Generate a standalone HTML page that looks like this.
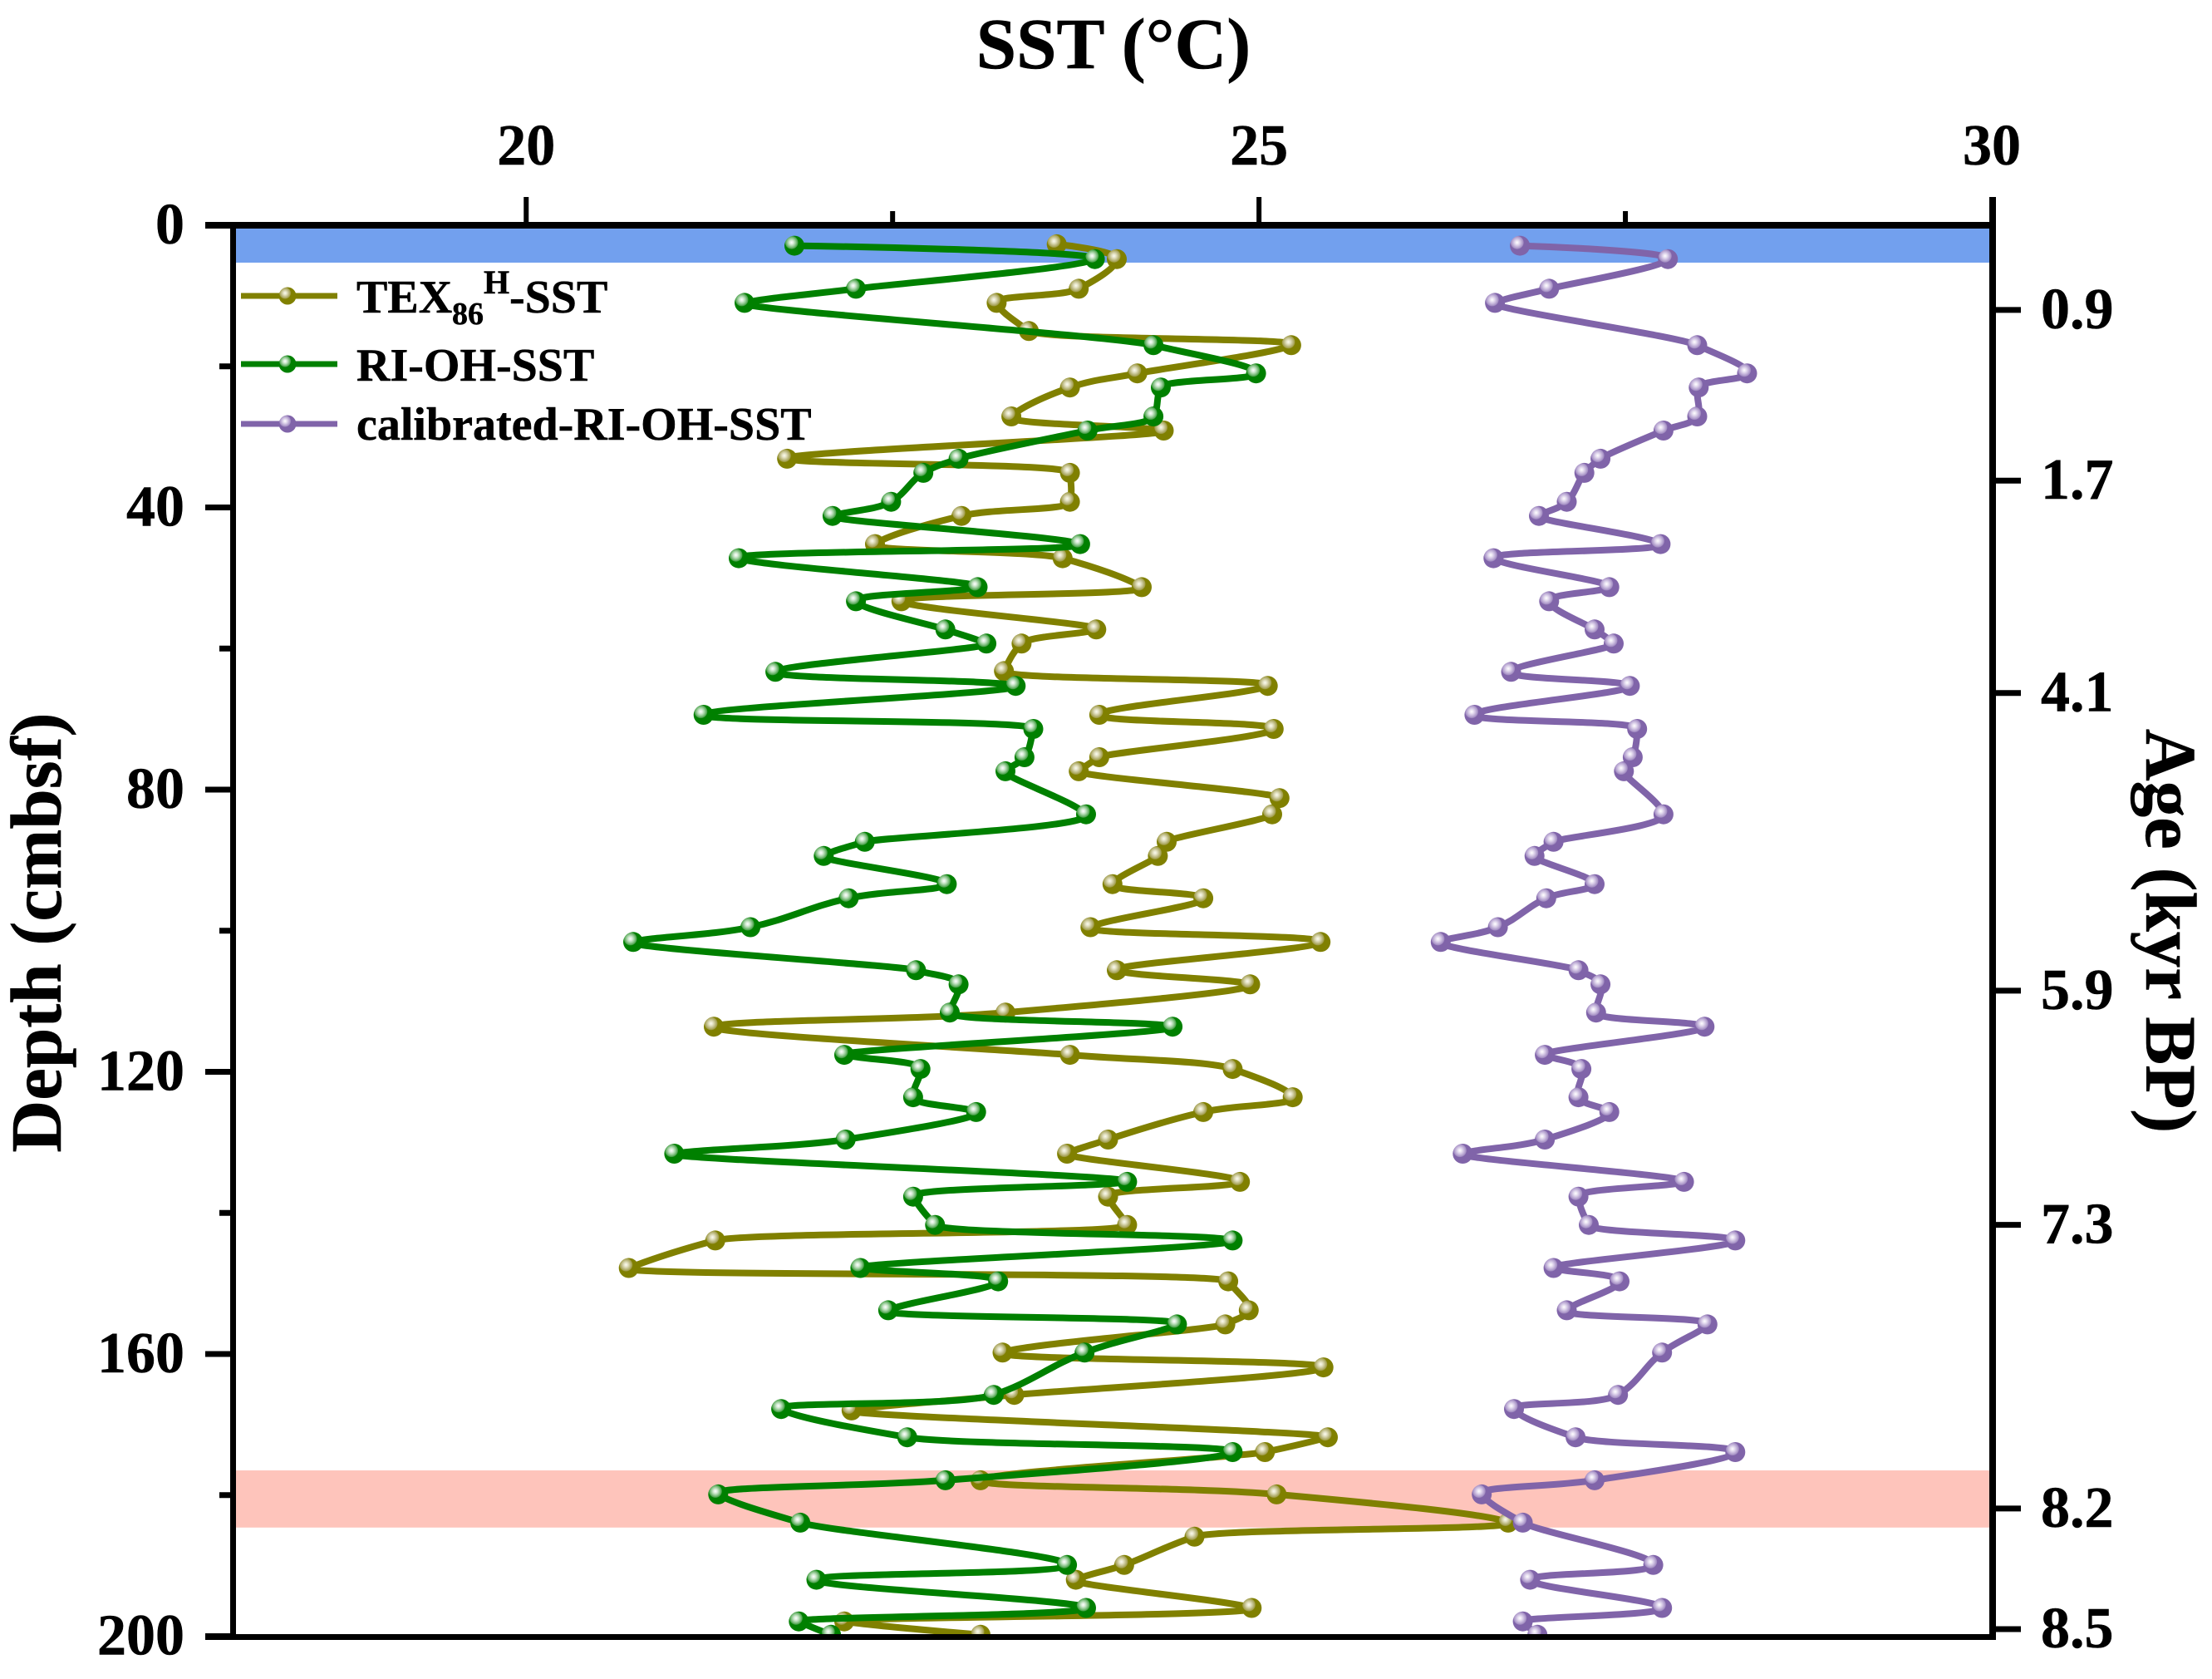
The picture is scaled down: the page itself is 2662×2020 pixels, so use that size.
<!DOCTYPE html>
<html lang="en">
<head>
<meta charset="utf-8">
<title>SST vs Depth</title>
<style>
html,body{margin:0;padding:0;background:#fff;}
svg{display:block;}
text{font-family:"Liberation Serif",serif;font-weight:bold;fill:#000;stroke:#000;stroke-width:0.5;}
</style>
</head>
<body>
<svg id="chart" xmlns="http://www.w3.org/2000/svg" width="2662" height="2020" viewBox="0 0 2662 2020">
<defs>
<radialGradient id="ballOlive" cx="0.36" cy="0.34" r="0.34">
<stop offset="0" stop-color="#fbfbf0"/><stop offset="0.3" stop-color="#e4e2c4"/><stop offset="0.62" stop-color="#c0bd88"/><stop offset="0.92" stop-color="#a09c48"/><stop offset="1" stop-color="#808000"/>
</radialGradient>
<radialGradient id="ballGreen" cx="0.36" cy="0.34" r="0.34">
<stop offset="0" stop-color="#ffffff"/><stop offset="0.3" stop-color="#d4ead4"/><stop offset="0.62" stop-color="#90c890"/><stop offset="0.92" stop-color="#48a048"/><stop offset="1" stop-color="#008000"/>
</radialGradient>
<radialGradient id="ballPurple" cx="0.36" cy="0.34" r="0.34">
<stop offset="0" stop-color="#ffffff"/><stop offset="0.3" stop-color="#e6def0"/><stop offset="0.62" stop-color="#c4b4da"/><stop offset="0.92" stop-color="#a28cc2"/><stop offset="1" stop-color="#8064A9"/>
</radialGradient>
<clipPath id="plotClipFull"><rect x="284" y="275" width="2110" height="1691"/></clipPath>
</defs>
<rect x="0" y="0" width="2662" height="2020" fill="#fff"/>
<g id="bands"></g>
<g id="series" clip-path="url(#plotClipFull)"></g>
<g id="axes"></g>
<text x="1340" y="82" font-size="87" text-anchor="middle">SST (°C)</text>
<text transform="translate(73,1122) rotate(-90)" font-size="87" text-anchor="middle">Depth (cmbsf)</text>
<text transform="translate(2583,1120) rotate(90)" font-size="87" text-anchor="middle">Age (kyr BP)</text>
<g>
<g>
<line x1="290" y1="356" x2="406" y2="356" stroke="#808000" stroke-width="7"/>
<circle cx="346" cy="356" r="10.5" fill="url(#ballOlive)"/>
<text x="429" y="376" font-size="56">TEX<tspan x="544" y="390" font-size="38">86</tspan><tspan x="582" y="353" font-size="40">H</tspan><tspan x="613" y="376" font-size="56">-SST</tspan></text>
</g>
<g>
<line x1="290" y1="438" x2="406" y2="438" stroke="#008000" stroke-width="7"/>
<circle cx="346" cy="438" r="10.5" fill="url(#ballGreen)"/>
<text x="429" y="458" font-size="56">RI-OH-SST</text>
</g>
<g>
<line x1="290" y1="510" x2="406" y2="510" stroke="#8064A9" stroke-width="7"/>
<circle cx="346" cy="510" r="10.5" fill="url(#ballPurple)"/>
<text x="429" y="529" font-size="56">calibrated-RI-OH-SST</text>
</g>
</g>
</svg>
<script>
var riDepths = [2.9,4.8,9,11,17,21,23,27.1,29.1,33.1,35.1,39.2,41.2,45.2,47.2,51.3,53.3,57.3,59.3,63.3,65.3,69.4,71.4,75.4,77.4,83.5,87.4,89.4,93.4,95.4,99.5,101.6,105.6,107.6,111.6,113.6,117.6,119.6,123.6,125.7,129.6,131.6,135.6,137.7,141.7,143.9,147.8,149.7,153.8,155.8,159.8,165.8,167.8,171.8,173.9,177.9,179.9,183.9,189.9,192,196,197.9,199.8];
var riValues = [21.83,23.88,22.25,21.49,24.28,24.98,24.33,24.28,23.83,22.95,22.71,22.49,22.09,23.78,21.45,23.08,22.25,22.86,23.14,21.70,23.34,21.21,23.46,23.40,23.27,23.82,22.31,22.03,22.87,22.20,21.53,20.73,22.66,22.95,22.89,24.41,22.17,22.69,22.64,23.07,22.18,21.01,24.10,22.64,22.79,24.82,22.28,23.22,22.47,24.44,23.81,23.19,21.74,22.60,24.82,22.86,21.31,21.87,23.69,21.98,23.82,21.86,22.08];
var calibratedValues = [26.78,27.79,26.98,26.61,27.99,28.33,28.00,27.99,27.76,27.33,27.22,27.10,26.91,27.74,26.60,27.39,26.98,27.29,27.42,26.72,27.53,26.47,27.58,27.55,27.49,27.76,27.01,26.88,27.29,26.96,26.63,26.24,27.18,27.33,27.30,28.04,26.95,27.20,27.18,27.39,26.95,26.39,27.90,27.18,27.25,28.25,27.01,27.46,27.10,28.06,27.75,27.45,26.74,27.16,28.25,27.29,26.52,26.80,27.69,26.85,27.75,26.80,26.90];
var texDepths = [2.7,4.8,9,11,15,17,21,23,27.1,29.1,33.1,35.1,39.2,41.2,45.2,47.2,51.3,53.3,57.3,59.3,63.2,65.3,69.4,71.4,75.4,77.4,81.2,83.5,87.4,89.4,93.4,95.4,99.5,101.6,105.6,107.6,111.6,113.6,117.6,119.6,123.6,125.7,129.6,131.6,135.6,137.7,141.7,143.9,147.8,149.7,153.8,155.8,159.8,161.9,165.8,168,171.8,173.9,177.9,179.9,183.9,185.9,189.9,192,196,197.9,199.8];
var texValues = [23.62,24.03,23.77,23.21,23.43,25.22,24.17,23.71,23.31,24.35,21.78,23.71,23.71,22.97,22.38,23.66,24.20,22.56,23.89,23.38,23.26,25.06,23.91,25.10,23.91,23.77,25.14,25.09,24.37,24.31,24.00,24.62,23.85,25.42,24.03,24.94,23.27,21.28,23.71,24.82,25.23,24.62,23.97,23.69,24.87,23.97,24.10,21.29,20.70,24.79,24.93,24.77,23.25,25.44,23.33,22.22,25.47,25.04,23.10,25.12,26.70,24.56,24.08,23.75,24.95,22.17,23.10];
var xMajorTicks = [20,25,30];
var xMinorTicks = [22.5,27.5];
var yMajorTicks = [0,40,80,120,160,200];
var yMinorTicks = [20,60,100,140,180];
var ageLabels = ["0.9","1.7","4.1","5.9","7.3","8.2","8.5"];
var ageDepths = [12,36.2,66.3,108.5,141.7,181.9,199];
var blueBandDepths = [0,5.3];
var pinkBandDepths = [176.5,184.6];

var NS = "http://www.w3.org/2000/svg";
var PLOT = {left:280.5, right:2397, top:271, bottom:1968.5};
var X_MIN = 18, X_MAX = 30, Y_MIN = 0, Y_MAX = 200;
function xScale(v){ return PLOT.left + (v - X_MIN) * (PLOT.right - PLOT.left) / (X_MAX - X_MIN); }
function yScale(v){ return PLOT.top + (v - Y_MIN) * (PLOT.bottom - PLOT.top) / (Y_MAX - Y_MIN); }
function make(tag, attrs, parent){
  var el = document.createElementNS(NS, tag);
  for (var k in attrs) el.setAttribute(k, attrs[k]);
  parent.appendChild(el);
  return el;
}
function splinePath(pts, k){
  var n = pts.length, tangents = [], i;
  function dist(a,b){ return Math.sqrt((a[0]-b[0])*(a[0]-b[0])+(a[1]-b[1])*(a[1]-b[1])) || 1; }
  for (i = 0; i < n; i++){
    if (i === 0 || i === n-1){ tangents.push([0,0,0]); continue; }
    var d1 = dist(pts[i],pts[i-1]), d2 = dist(pts[i+1],pts[i]);
    tangents.push([
      (d2*(pts[i][0]-pts[i-1][0])/d1 + d1*(pts[i+1][0]-pts[i][0])/d2)/(d1+d2),
      (d2*(pts[i][1]-pts[i-1][1])/d1 + d1*(pts[i+1][1]-pts[i][1])/d2)/(d1+d2),
      Math.min(d1,d2)*k
    ]);
  }
  var d = "M" + pts[0][0].toFixed(1) + " " + pts[0][1].toFixed(1);
  for (i = 0; i < n-1; i++){
    var L0 = tangents[i][2], L1 = tangents[i+1][2];
    d += " C" + (pts[i][0]+tangents[i][0]*L0).toFixed(1) + " " + (pts[i][1]+tangents[i][1]*L0).toFixed(1) +
         " " + (pts[i+1][0]-tangents[i+1][0]*L1).toFixed(1) + " " + (pts[i+1][1]-tangents[i+1][1]*L1).toFixed(1) +
         " " + pts[i+1][0].toFixed(1) + " " + pts[i+1][1].toFixed(1);
  }
  return d;
}
function drawBand(range, color, label){
  var r = make("rect", {x:284, y:yScale(range[0]), width:2110, height:yScale(range[1])-yScale(range[0]), fill:color}, document.getElementById("bands"));
  
  
}
drawBand(blueBandDepths, "#72A0EE", "blue-band");
drawBand(pinkBandDepths, "#FEC4BB", "pink-band");

function drawSeries(depths, values, color, grad, label){
  var g = make("g", {}, document.getElementById("series"));
  
  
  var pts = values.map(function(v,i){ return [xScale(v), yScale(depths[i])]; });
  var path = make("path", {d:splinePath(pts, 0.4), fill:"none", stroke:color, "stroke-width":8, "stroke-linejoin":"round"}, g);
  
  
  pts.forEach(function(p){
    var c = make("circle", {cx:p[0].toFixed(1), cy:p[1].toFixed(1), r:12, fill:"url(#"+grad+")"}, g);
    
    
  });
}
drawSeries(texDepths, texValues, "#808000", "ballOlive", "tex86-sst");
drawSeries(riDepths, riValues, "#008000", "ballGreen", "ri-oh-sst");
drawSeries(riDepths, calibratedValues, "#8064A9", "ballPurple", "calibrated-ri-oh-sst");

var axes = document.getElementById("axes");
function axisLine(x1,y1,x2,y2,w,label){
  var l = make("line", {x1:x1,y1:y1,x2:x2,y2:y2,stroke:"#000","stroke-width":w}, axes);
  
  
}
function label(x,y,txt,anchor,name){
  var t = make("text", {x:x,y:y,"font-size":70,"text-anchor":anchor}, axes);
  t.textContent = txt;
  
  
}
axisLine(247,271,2402,271,8,"top-axis-line");
axisLine(280.5,267,280.5,1973,7,"left-axis-line");
axisLine(2398,237,2398,1973,8,"right-axis-line");
axisLine(247,1969.5,2402,1969.5,7,"bottom-axis-line");
xMajorTicks.forEach(function(v){
  axisLine(xScale(v),237,xScale(v),271,6,"x-major-tick");
  label(xScale(v),198,String(v),"middle","x-tick-label");
});
xMinorTicks.forEach(function(v){
  axisLine(xScale(v),254,xScale(v),271,6,"x-minor-tick");
});
yMajorTicks.forEach(function(v){
  axisLine(247,yScale(v),280,yScale(v),7,"y-major-tick");
  label(222,yScale(v)+22,String(v),"end","y-tick-label");
});
yMinorTicks.forEach(function(v){
  axisLine(264,yScale(v),280,yScale(v),7,"y-minor-tick");
});
ageLabels.forEach(function(txt,i){
  var y = yScale(ageDepths[i]);
  axisLine(2398,y,2432,y,7,"age-tick");
  label(2456,y+22,txt,"start","age-tick-label");
});
</script>
</body>
</html>
